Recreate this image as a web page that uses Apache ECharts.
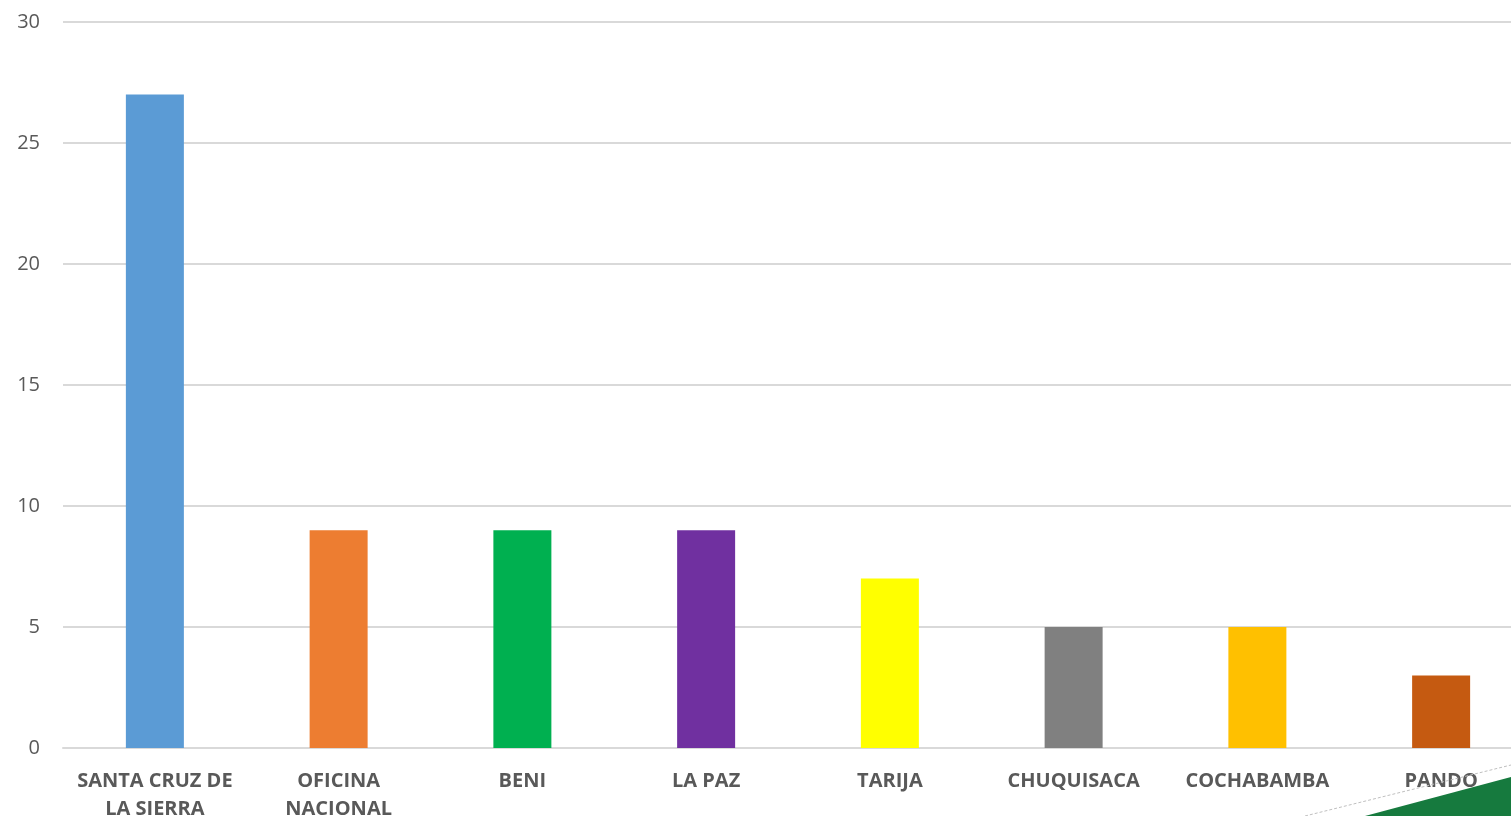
<!DOCTYPE html>
<html><head><meta charset="utf-8">
<script src="https://cdn.jsdelivr.net/npm/echarts@6/dist/echarts.min.js"></script>
<style>html,body{margin:0;padding:0;background:#fff}#c{width:1511px;height:816px}</style>
</head><body><div id="c"></div>
<script>
const categories = ['SANTA CRUZ DE\nLA SIERRA', 'OFICINA\nNACIONAL', 'BENI', 'LA PAZ', 'TARIJA', 'CHUQUISACA', 'COCHABAMBA', 'PANDO'];
const values = [27, 9, 9, 9, 7, 5, 5, 3];
const colors = ['#5B9BD5', '#ED7D31', '#00B050', '#7030A0', '#FFFF00', '#808080', '#FFC000', '#C55A11'];
const chart = echarts.init(document.getElementById('c'));
chart.setOption({
  animation: false,
  grid: { left: 63, right: -22, top: 22, bottom: 68, containLabel: false, outerBoundsMode: 'none' },
  xAxis: {
    type: 'category', data: categories,
    axisLine: { lineStyle: { color: '#D9D9D9', width: 2 } },
    axisTick: { show: false },
    axisLabel: { interval: 0, color: '#595959', fontFamily: 'Open Sans', fontWeight: 'bold', fontSize: 20, lineHeight: 28, margin: 19 }
  },
  yAxis: {
    type: 'value', min: 0, max: 30, interval: 5,
    axisLine: { show: false }, axisTick: { show: false },
    splitLine: { lineStyle: { color: '#D9D9D9', width: 2 } },
    axisLabel: { color: '#595959', fontFamily: 'Open Sans', fontSize: 20, margin: 23 }
  },
  series: [{
    type: 'bar', barWidth: 58,
    data: values.map((v, i) => ({ value: v, itemStyle: { color: colors[i] } }))
  }],
  graphic: [
    { type: 'polygon', shape: { points: [[1365, 816], [1511, 777], [1511, 816]] }, style: { fill: '#167A3E' }, z: 100 },
    { type: 'line', shape: { x1: 1305, y1: 816, x2: 1511, y2: 765 }, style: { stroke: '#BFBFBF', lineWidth: 1, lineDash: [3, 2] }, z: 99 }
  ]
});
</script></body></html>
